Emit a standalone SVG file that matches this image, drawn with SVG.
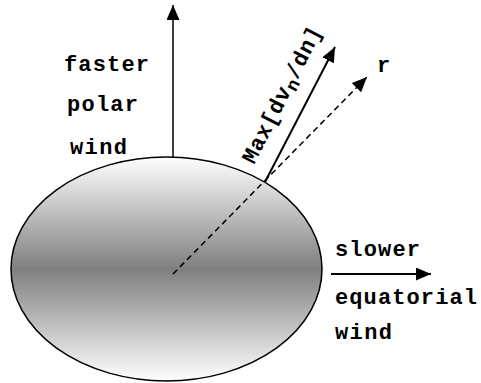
<svg xmlns="http://www.w3.org/2000/svg" width="481" height="383" viewBox="0 0 481 383">
<style>
.t{font-family:"Liberation Mono","Courier New",monospace;font-weight:bold;font-size:22px;fill:#000}
.ln{stroke:#000;fill:none}
</style>
<defs>
<linearGradient id="g" x1="0" y1="0" x2="0" y2="1">
<stop offset="0" stop-color="#ffffff"/>
<stop offset="0.5" stop-color="#7f7f7f"/>
<stop offset="1" stop-color="#ffffff"/>
</linearGradient>
<marker id="ah" markerUnits="userSpaceOnUse" markerWidth="16" markerHeight="14" refX="15" refY="6.5" orient="auto">
<path d="M0,0 L15,6.5 L0,13 Z" fill="#000"/>
</marker>
</defs>
<g id="star">
<ellipse cx="166.5" cy="269" rx="155.5" ry="112" fill="url(#g)" stroke="#000" stroke-width="1.5"/>
</g>
<g id="connectors">
<line class="ln" x1="173" y1="157" x2="173" y2="5" stroke-width="1.5" marker-end="url(#ah)"/>
<line class="ln" x1="265" y1="182" x2="335" y2="47" stroke-width="2" marker-end="url(#ah)"/>
<line class="ln" x1="173" y1="274" x2="367" y2="77" stroke-width="1.5" stroke-dasharray="6,4" marker-end="url(#ah)"/>
<line class="ln" x1="331" y1="274" x2="431" y2="274" stroke-width="2" marker-end="url(#ah)"/>
</g>
<g id="polar-label">
<text class="t" x="64" y="71" textLength="85" lengthAdjust="spacing">faster</text>
<text class="t" x="67" y="111" textLength="71" lengthAdjust="spacing">polar</text>
<text class="t" x="70" y="154" textLength="57" lengthAdjust="spacing">wind</text>
</g>
<g id="equatorial-label">
<text class="t" x="335" y="256" textLength="85" lengthAdjust="spacing">slower</text>
<text class="t" x="335" y="304" textLength="142" lengthAdjust="spacing">equatorial</text>
<text class="t" x="335" y="339" textLength="57" lengthAdjust="spacing">wind</text>
</g>
<g id="r-label">
<text class="t" x="377" y="72">r</text>
</g>
<g id="max-label">
<text class="t" transform="translate(254,165) rotate(-63)" x="0" y="0" textLength="150" lengthAdjust="spacing">Max[dv<tspan font-size="18" dy="4">n</tspan><tspan dy="-4">/dn]</tspan></text>
</g>
</svg>
